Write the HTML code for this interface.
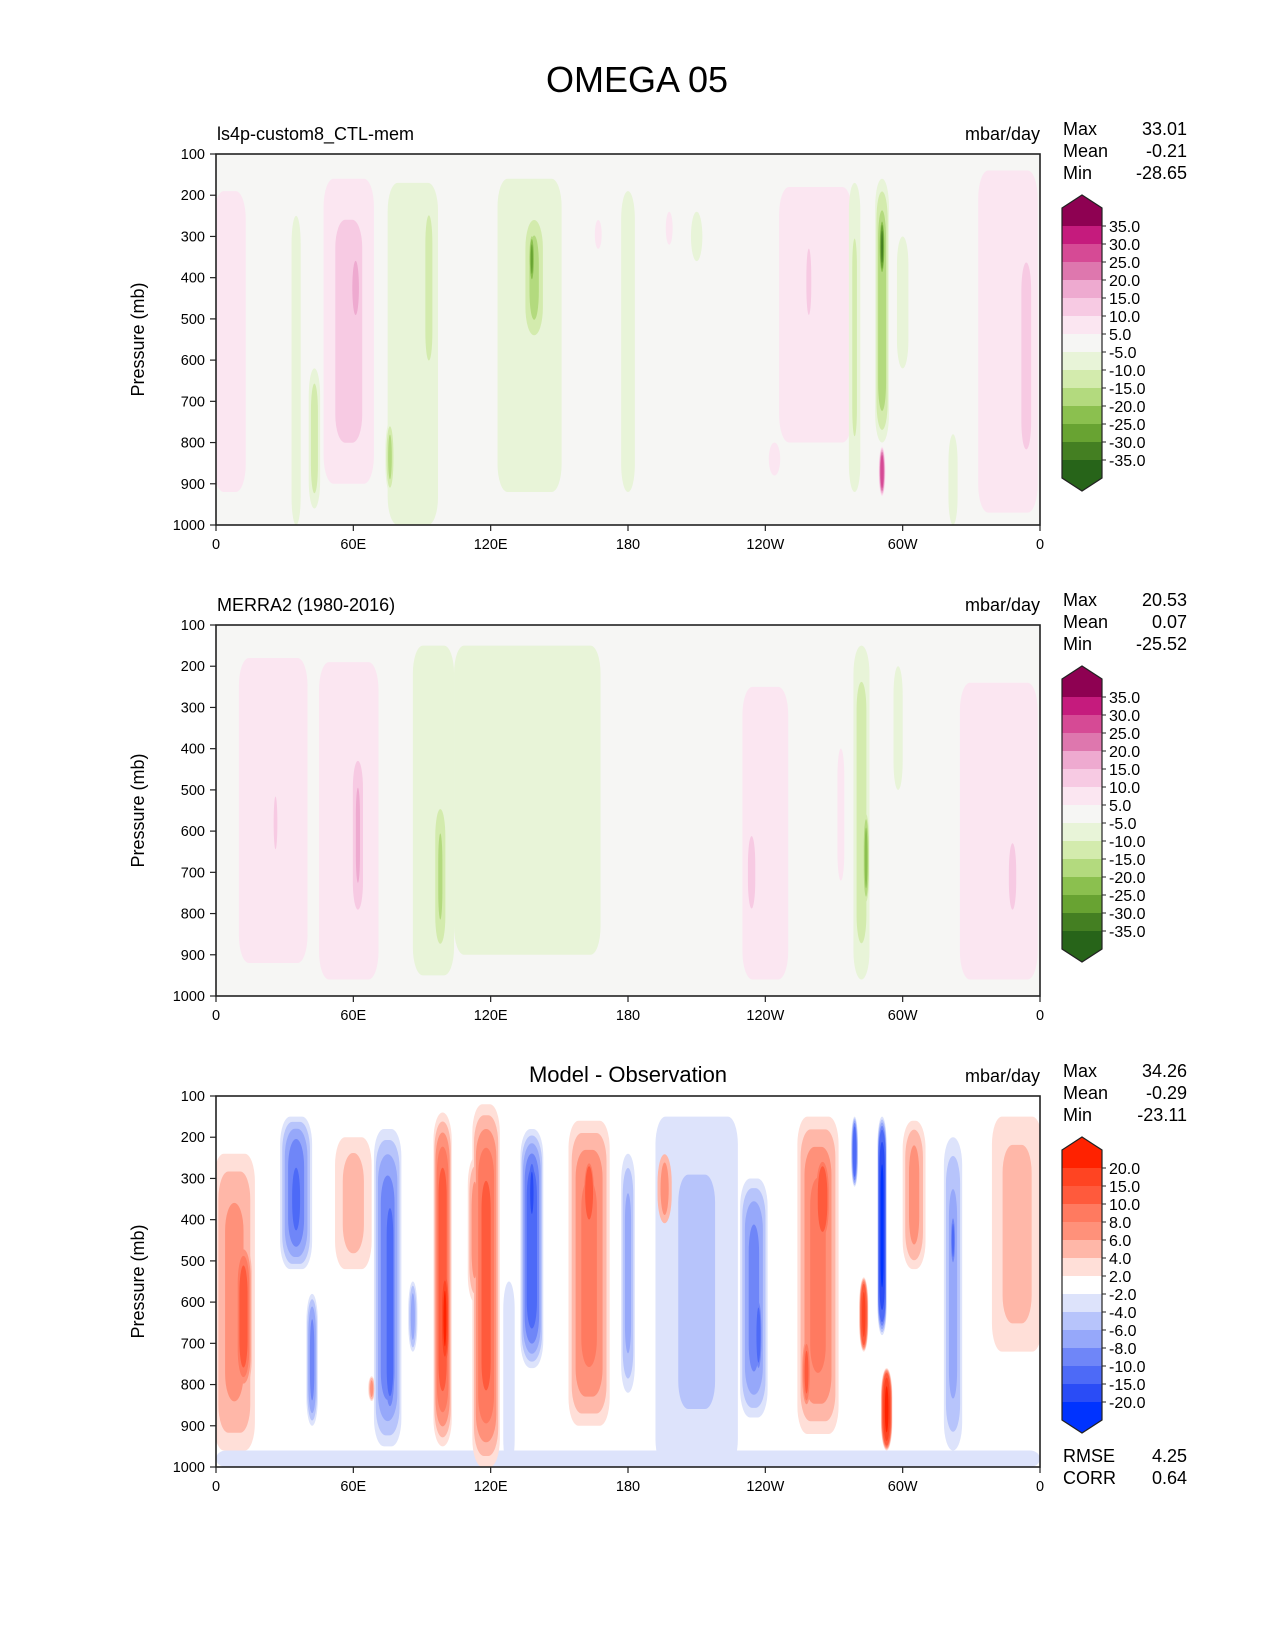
<!DOCTYPE html>
<html><head><meta charset="utf-8"><style>
body{margin:0;background:#fff;}
svg{display:block;font-family:"Liberation Sans","DejaVu Sans",sans-serif;}
</style></head><body>
<svg id="fig" width="1275" height="1650" viewBox="0 0 1275 1650" xmlns="http://www.w3.org/2000/svg">
<text x="637" y="92" font-size="36" text-anchor="middle">OMEGA 05</text>
</svg>
<script>
// ---- data ----
const lonTicks = [0, 60, 120, 180, 240, 300, 360];
const lonLabels = ["0", "60E", "120E", "180", "120W", "60W", "0"];
const pTicks = [100, 200, 300, 400, 500, 600, 700, 800, 900, 1000];
const panelTitles = ["ls4p-custom8_CTL-mem", "MERRA2 (1980-2016)", "Model - Observation"];
const statMax = ["33.01", "20.53", "34.26"];
const statMean = ["-0.21", "0.07", "-0.29"];
const statMin = ["-28.65", "-25.52", "-23.11"];
const rmseVal = "4.25";
const corrVal = "0.64";
const levelsA = [-35, -30, -25, -20, -15, -10, -5, 5, 10, 15, 20, 25, 30, 35];
const levelsB = [-20, -15, -10, -8, -6, -4, -2, 2, 4, 6, 8, 10, 15, 20];
const labelsA = ["35.0","30.0","25.0","20.0","15.0","10.0","5.0","-5.0","-10.0","-15.0","-20.0","-25.0","-30.0","-35.0"];
const labelsB = ["20.0","15.0","10.0","8.0","6.0","4.0","2.0","-2.0","-4.0","-6.0","-8.0","-10.0","-15.0","-20.0"];
const colorsA = ["#276419","#447f22","#68a332","#8bc04f","#b3da7e","#d3ebad","#e8f4d8","#f6f6f4","#fbe6f1","#f7cae3","#eeaad0","#de77ae","#d64a95","#c51b7d","#8e0152"];
const colorsB = ["#0033ff","#2a4cf6","#4d6af7","#6f86f8","#96a8fa","#b7c4fb","#dde3fb","#ffffff","#ffdfd8","#ffb7a8","#ff917a","#ff7a60","#ff5a3c","#ff4422","#ff2200"];
// field features: [lon, pTop, pBottom, lonWidth, peakValue]
const field1 = [
 [6,190,920,14,8],[58,160,900,22,12],[61,330,520,6,18],[86,170,1000,22,-8],[93,200,650,5,-13],
 [76,750,920,4,-17],[43,620,960,5,-13],[35,250,1000,4,-7],[137,160,920,28,-9],[139,240,560,10,-17],
 [138,290,420,3,-27],[180,190,920,6,-7],[167,260,330,3,6],[198,240,320,3,6],[210,240,360,5,-6],
 [262,180,800,32,7],[259,300,520,4,12],[244,800,880,5,7],[279,170,920,5,-11],[291,160,800,6,-20],
 [291,250,400,3,-32],[291,810,930,3,30],[300,300,620,5,-7],[322,780,1000,4,-7],[346,140,970,26,8],[354,280,900,8,12]
];
const field2 = [
 [25,180,920,30,7],[26,480,680,4,11],[58,190,960,26,9],[62,400,820,6,16],[95,150,950,18,-7],
 [98,520,900,6,-16],[136,150,900,64,-6],[240,250,960,20,7],[234,580,820,6,12],[282,150,960,7,-13],
 [284,550,780,3,-23],[298,200,500,4,-7],[273,400,720,3,6],[342,240,960,34,8],[348,600,820,6,12]
];
const field3 = [
 [180,960,1000,360,-3],
 [8,240,960,18,7],[12,450,820,8,12],[35,150,520,14,-10],[35,250,450,6,-14],[42,580,900,5,-9],
 [60,200,520,16,5],[68,780,840,3,7],[75,180,950,12,-10],[76,300,900,5,-14],[86,550,720,4,-7],
 [99,140,950,8,12],[100,520,760,4,22],[118,120,1000,12,11],[113,250,600,6,7],[138,180,760,10,-12],
 [138,250,420,4,-17],[128,550,1000,5,-3],[163,160,900,18,9],[163,250,420,6,14],[180,240,820,6,-7],
 [196,230,420,8,7],[210,150,1000,36,-4.5],[235,300,880,12,-9],[237,580,780,4,-12],[263,150,920,18,9],
 [265,240,460,8,13],[258,680,860,5,11],[283,540,720,4,17],[293,760,960,5,22],[279,150,320,3,-13],
 [291,150,680,4,-22],[305,160,520,10,7],[322,200,960,8,-7],[322,380,520,3,-11],[350,150,720,22,5]
];

const NS = "http://www.w3.org/2000/svg";
const svg = document.getElementById("fig");
const AX_L = 216, AX_R = 1040, AX_T = 154, AX_H = 371;
const offsets = [0, 471, 942];
function xScale(lon){ return AX_L + lon / 360 * (AX_R - AX_L); }
function yScale(p, off){ return AX_T + off + (p - 100) / 900 * AX_H; }
function mk(tag, attrs, parent){ const e = document.createElementNS(NS, tag); for (const k in attrs) e.setAttribute(k, attrs[k]); (parent||svg).appendChild(e); return e; }
function txt(x, y, s, size, anchor, parent){ const t = mk("text", {x:x, y:y, "font-size":size, "text-anchor":anchor||"start"}, parent); t.textContent = s; return t; }
function colorFor(v, levels, colors){ let i = 0; while (i < levels.length && v > levels[i]) i++; return colors[i]; }

function drawField(field, off, levels, colors, bg, idx){
  const g = mk("g", {"clip-path":"url(#clip"+idx+")"});
  
  
  const cp = mk("clipPath", {id:"clip"+idx});
  mk("rect", {x:AX_L, y:AX_T+off, width:AX_R-AX_L, height:AX_H}, cp);
  const bgR = mk("rect", {x:AX_L, y:AX_T+off, width:AX_R-AX_L, height:AX_H, fill:bg}, g);
  
  
  const pos = levels.filter(l => l > 0);
  pos.forEach((t) => {
    field.forEach(f => {
      const a = Math.abs(f[4]);
      if (a <= t) return;
      const fac = Math.sqrt((a - t) / (a - pos[0]));
      const facV = Math.sqrt(fac);
      const cx = xScale(f[0]);
      const y0 = yScale(f[1], off), y1 = yScale(f[2], off);
      const cy = (y0 + y1) / 2;
      const w = (xScale(f[3]) - xScale(0)) * fac;
      const h = (y1 - y0) * facV;
      const val = f[4] > 0 ? t + 0.01 : -t - 0.01;
      const e = mk("rect", {x:cx - w/2, y:cy - h/2, width:w, height:h,
        rx:Math.min(w/2, 10), ry:Math.min(h/2, 28), fill:colorFor(val, levels, colors)}, g);
      
      
    });
  });
}

function drawAxes(off, idx){
  const fr = mk("rect", {x:AX_L, y:AX_T+off, width:AX_R-AX_L, height:AX_H, fill:"none", stroke:"#222", "stroke-width":1.6});
  
  
  lonTicks.forEach((l, i) => {
    const x = xScale(l), y = AX_T + off + AX_H;
    mk("line", {x1:x, x2:x, y1:y, y2:y+6, stroke:"#222", "stroke-width":1.2});
    const t = txt(x, y + 24, lonLabels[i], 14.5, "middle");
    
    
  });
  pTicks.forEach(p => {
    const y = yScale(p, off);
    mk("line", {x1:AX_L-6, x2:AX_L, y1:y, y2:y, stroke:"#222", "stroke-width":1.2});
    const t = txt(AX_L - 11, y + 5, String(p), 14.5, "end");
    
    
  });
  const cy = AX_T + off + AX_H / 2;
  const yl = txt(0, 0, "Pressure (mb)", 18, "middle");
  yl.setAttribute("transform", "translate(144," + cy + ") rotate(-90)");
  
  
  let tt;
  if (idx < 2) tt = txt(AX_L + 1, AX_T + off - 14, panelTitles[idx], 18, "start");
  else tt = txt((AX_L + AX_R) / 2, AX_T + off - 14, panelTitles[idx], 22, "middle");
  
  
  const u = txt(AX_R, AX_T + off - 14, "mbar/day", 18, "end");
  
  
  const names = ["Max", "Mean", "Min"], vals = [statMax[idx], statMean[idx], statMin[idx]];
  names.forEach((n, k) => {
    const a = txt(1063, 135 + off + 22 * k, n, 18, "start");
    
    
    const b = txt(1187, 135 + off + 22 * k, vals[k], 18, "end");
    
    
  });
}

function drawColorbar(off, colors, labels, idx){
  const g = mk("g", {});
  
  
  const L = 1062, R = 1102, top = 208 + off, bh = 18, n = colors.length;
  for (let i = 0; i < n; i++) {
    const r = mk("rect", {x:L, y:top + i*bh, width:R-L, height:bh+0.5, fill:colors[n-1-i]}, g);
    
    
  }
  const bot = top + n*bh;
  mk("polygon", {points:`${L},${top} ${(L+R)/2},${top-13} ${R},${top}`, fill:colors[n-1]}, g);
  mk("polygon", {points:`${L},${bot} ${(L+R)/2},${bot+13} ${R},${bot}`, fill:colors[0]}, g);
  mk("polygon", {points:`${L},${top} ${(L+R)/2},${top-13} ${R},${top} ${R},${bot} ${(L+R)/2},${bot+13} ${L},${bot}`, fill:"none", stroke:"#222", "stroke-width":1.2}, g);
  labels.forEach((s, k) => {
    const y = top + (k+1)*bh;
    mk("line", {x1:R, x2:R+4, y1:y, y2:y, stroke:"#222", "stroke-width":1}, g);
    const t = txt(R + 7, y + 6, s, 16, "start", g);
    
    
  });
}

drawField(field1, offsets[0], levelsA, colorsA, colorsA[7], 0);
drawField(field2, offsets[1], levelsA, colorsA, colorsA[7], 1);
drawField(field3, offsets[2], levelsB, colorsB, "#ffffff", 2);
[0,1,2].forEach(i => drawAxes(offsets[i], i));
drawColorbar(offsets[0], colorsA, labelsA, 0);
drawColorbar(offsets[1], colorsA, labelsA, 1);
drawColorbar(offsets[2], colorsB, labelsB, 2);
const r1 = txt(1063, 1462, "RMSE", 18, "start");


const r2 = txt(1187, 1462, rmseVal, 18, "end");


const c1 = txt(1063, 1484, "CORR", 18, "start");


const c2 = txt(1187, 1484, corrVal, 18, "end");


</script>
</body></html>
